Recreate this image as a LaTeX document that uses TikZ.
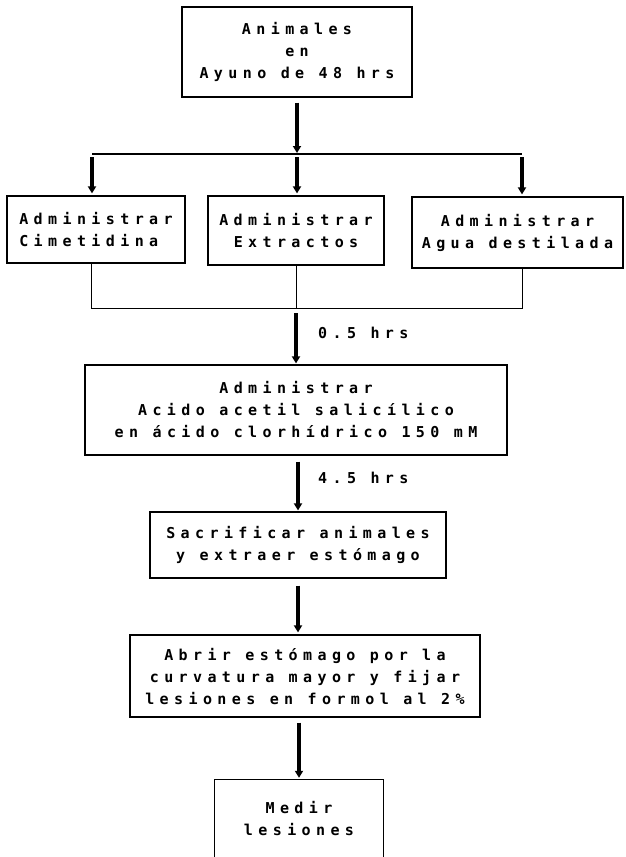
\documentclass[tikz,border=0pt]{standalone}
\usepackage{fontspec}
\newfontfamily\tf{DejaVu Sans Mono Bold}[LetterSpace=36]
\usetikzlibrary{arrows.meta}
\begin{document}
\begin{tikzpicture}[x=1pt,y=-1pt,
  txt/.style={font={\tf\fontsize{15}{22}\selectfont}},
  box/.style={txt, draw, line width=1.2pt, inner sep=0pt, align=center},
  arr/.style={line width=3.4pt, -{Triangle[width=8pt,length=7pt]}},
  thinl/.style={line width=1pt},
  barl/.style={line width=1.6pt}]
\useasboundingbox[fill=white] (0,0) rectangle (625,857);
\node[box, minimum width=230pt, minimum height=90pt] (top) at (297,52) {Animales\\en\\Ayuno de 48 hrs};
\node[box, minimum width=178pt, minimum height=67pt, align=left] (b1) at (96,229.5) {Administrar\\Cimetidina};
\node[box, minimum width=176pt, minimum height=69pt] (b2) at (296,230.5) {Administrar\\Extractos};
\node[box, minimum width=211pt, minimum height=71pt] (b3) at (517.5,232.5) {Administrar\\Agua destilada};
\node[box, minimum width=422pt, minimum height=90pt] (b4) at (296,410) {Administrar\\Acido acetil salicílico\\en ácido clorhídrico 150 mM};
\node[box, minimum width=296pt, minimum height=66pt] (b5) at (298,545) {Sacrificar animales\\y extraer estómago};
\node[box, minimum width=350pt, minimum height=82pt] (b6) at (305,676) {Abrir estómago por la\\curvatura mayor y fijar\\lesiones en formol al 2\%};
\node[txt, align=center, inner sep=0pt, minimum width=168pt, minimum height=77pt] (m7) at (299,818.5) {Medir\\lesiones};
\draw[line width=1.2pt] (m7.south west) -- (m7.north west) -- (m7.north east) -- (m7.south east);
\node[txt, anchor=west, inner sep=0pt] (l1) at (318,333) {0.5 hrs};
\node[txt, anchor=west, inner sep=0pt] (l2) at (318,478) {4.5 hrs};
% split bar
\coordinate (bl) at (92,154);
\coordinate (br) at (522,154);
\draw[barl] (bl) -- (br);
\draw[arr] ([yshift=-5pt]top.south) -- ([yshift=1pt]top.south |- bl);
\draw[arr] ([yshift=-3pt]bl) -- ([yshift=2pt]bl |- b1.north);
\draw[arr] ([yshift=-3pt]top.south |- bl) -- ([yshift=2pt]top.south |- b2.north);
\draw[arr] ([yshift=-3pt]br) -- ([yshift=2pt]br |- b3.north);
% join
\coordinate (jl) at (91,308);
\coordinate (jr) at (522,308);
\draw[thinl] (jl |- b1.south) -- (jl) -- (jr) -- (jr |- b3.south);
\draw[thinl] (b2.south) -- (b2.south |- jl);
\draw[arr] ([yshift=-5pt]b4.north |- jl) -- ([yshift=1pt]b4.north);
\draw[arr] ([yshift=-6pt]b4.south -| b5.north) -- ([yshift=1pt]b5.north);
\draw[arr] ([yshift=-7pt]b5.south) -- ([yshift=2pt]b5.south |- b6.north);
\draw[arr] ([yshift=-5pt]b6.south -| m7.north) -- ([yshift=2pt]m7.north);
\end{tikzpicture}
\end{document}
